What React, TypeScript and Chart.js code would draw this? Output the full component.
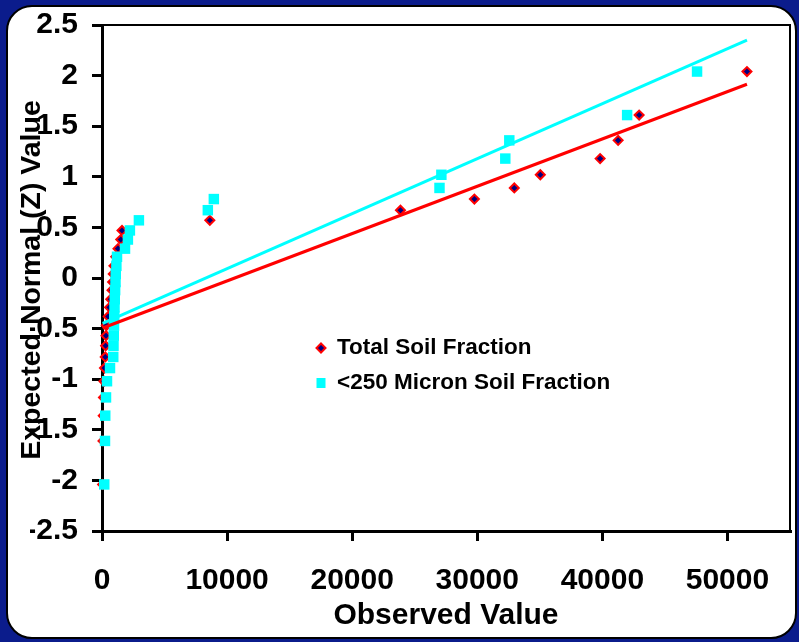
import React, { useEffect, useRef } from 'react';
import { Chart, registerables } from 'chart.js';

Chart.register(...registerables);

// ---- Data ----
const zScores = [
  -2.04, -1.61, -1.36, -1.18, -1.02, -0.89, -0.78, -0.67, -0.57, -0.47,
  -0.38, -0.29, -0.21, -0.12, -0.04, 0.04, 0.12, 0.21, 0.29, 0.38,
  0.47, 0.57, 0.67, 0.78, 0.89, 1.02, 1.18, 1.36, 1.61, 2.04,
];

const totalSoilObserved = [
  50, 80, 100, 120, 160, 200, 260, 290, 320, 350,
  500, 600, 700, 800, 850, 900, 950, 1100, 1280, 1500,
  1600, 8620, 23860, 29770, 32960, 35040, 39820, 41260, 42940, 51560,
];

const micronSoilObserved = [
  180, 240, 260, 320, 400, 640, 900, 920, 940, 960,
  980, 1000, 1020, 1050, 1080, 1100, 1150, 1200, 1840, 2070,
  2230, 2950, 8460, 8940, 26980, 27130, 32240, 32560, 41980, 47570,
];

const seriesLabels = ['Total Soil Fraction', '<250 Micron Soil Fraction'];
const xAxisTitle = 'Observed Value';
const yAxisTitle = 'Expected Normal (Z) Value';
const xTickValues = [0, 10000, 20000, 30000, 40000, 50000];
const yTickValues = [-2.5, -2, -1.5, -1, -0.5, 0, 0.5, 1, 1.5, 2, 2.5];
const xAxisMin = 0;
const xAxisMax = 55000;
const yAxisMin = -2.5;
const yAxisMax = 2.5;

const FONT = '"Liberation Sans", Arial, Helvetica, sans-serif';
const RED = '#ff0000';
const NAVY = '#000080';
const CYAN = '#00ffff';
const BLUE_BG = '#0b1c8c';

function linearFit(xs: number[], ys: number[]) {
  const n = xs.length;
  const mx = xs.reduce((a, b) => a + b, 0) / n;
  const my = ys.reduce((a, b) => a + b, 0) / n;
  let sxy = 0;
  let sxx = 0;
  for (let i = 0; i < n; i++) {
    sxy += (xs[i] - mx) * (ys[i] - my);
    sxx += (xs[i] - mx) * (xs[i] - mx);
  }
  const slope = sxy / sxx;
  return { slope, intercept: my - slope * mx };
}

function trendPoints(xs: number[], ys: number[], x0: number, x1: number) {
  const { slope, intercept } = linearFit(xs, ys);
  return [
    { x: x0, y: intercept + slope * x0 },
    { x: x1, y: intercept + slope * x1 },
  ];
}

const decorPlugin = {
  id: 'decor',
  beforeDatasetsDraw(chart: any) {
    const { ctx, chartArea: ca } = chart;
    ctx.save();
    ctx.strokeStyle = '#000';
    ctx.lineWidth = 2;
    ctx.beginPath();
    ctx.moveTo(ca.left - 10, ca.top);
    ctx.lineTo(ca.right, ca.top);
    ctx.lineTo(ca.right, ca.bottom);
    ctx.stroke();
    ctx.restore();
  },
  afterDraw(chart: any) {
    const { ctx, chartArea: ca } = chart;
    // y axis title
    ctx.save();
    ctx.translate(40, (ca.top + ca.bottom) / 2 + 2);
    ctx.rotate(-Math.PI / 2);
    ctx.fillStyle = '#000';
    ctx.font = `bold 28.5px ${FONT}`;
    ctx.textAlign = 'center';
    ctx.textBaseline = 'alphabetic';
    ctx.fillText(yAxisTitle, 0, 0);
    ctx.restore();

    // legend inside plot
    const mx = ca.left + 219;
    const tx = ca.left + 235;
    const y1 = ca.top + 323;
    const y2 = ca.top + 358;
    ctx.save();
    ctx.beginPath();
    ctx.moveTo(mx, y1 - 4.5);
    ctx.lineTo(mx + 4.5, y1);
    ctx.lineTo(mx, y1 + 4.5);
    ctx.lineTo(mx - 4.5, y1);
    ctx.closePath();
    ctx.fillStyle = NAVY;
    ctx.fill();
    ctx.strokeStyle = RED;
    ctx.lineWidth = 2;
    ctx.stroke();
    ctx.fillStyle = CYAN;
    ctx.fillRect(mx - 4.5, y2 - 5, 9, 10);
    ctx.fillStyle = '#000';
    ctx.font = `bold 22.5px ${FONT}`;
    ctx.textAlign = 'left';
    ctx.textBaseline = 'middle';
    ctx.fillText(seriesLabels[0], tx, y1);
    ctx.fillText(seriesLabels[1], tx, y2);
    ctx.restore();
  },
};

export default function App() {
  const canvasRef = useRef<HTMLCanvasElement | null>(null);

  useEffect(() => {
    document.body.style.margin = '0';
    if (!canvasRef.current) return;
    const allX = [...totalSoilObserved, ...micronSoilObserved];
    const x0 = Math.min(...allX);
    const x1 = Math.max(...allX);

    const totalPts = totalSoilObserved.map((x, i) => ({ x, y: zScores[i] }));
    const micronPts = micronSoilObserved.map((x, i) => ({ x, y: zScores[i] }));

    const tickFont = { family: FONT, size: 30, weight: 'bold' as const };
    const gridOpts = {
      drawOnChartArea: false,
      drawTicks: true,
      tickLength: 10,
      color: '#000',
      lineWidth: 3,
    };
    const borderOpts = { display: true, color: '#000', width: 3 };

    const chart = new Chart(canvasRef.current, {
      type: 'scatter',
      data: {
        datasets: [
          {
            label: 'Total trend',
            data: trendPoints(totalSoilObserved, zScores, x0, x1),
            showLine: true,
            borderColor: RED,
            borderWidth: 3,
            pointRadius: 0,
            clip: false,
          } as any,
          {
            label: 'Micron trend',
            data: trendPoints(micronSoilObserved, zScores, x0, x1),
            showLine: true,
            borderColor: CYAN,
            borderWidth: 3,
            pointRadius: 0,
            clip: false,
          } as any,
          {
            label: seriesLabels[1],
            data: micronPts,
            pointStyle: 'rect',
            pointRadius: 7.4,
            backgroundColor: CYAN,
            borderColor: CYAN,
            borderWidth: 0,
            clip: false,
          } as any,
          {
            label: seriesLabels[0],
            data: totalPts,
            pointStyle: 'rectRot',
            pointRadius: 4.5,
            backgroundColor: NAVY,
            borderColor: RED,
            borderWidth: 2,
            clip: false,
          } as any,
        ],
      },
      options: {
        animation: false,
        responsive: false,
        events: [],
        layout: { padding: { left: 30, right: 9, top: 25, bottom: 8 } },
        plugins: {
          legend: { display: false },
          tooltip: { enabled: false },
        },
        scales: {
          x: {
            type: 'linear',
            min: xAxisMin,
            max: xAxisMax,
            afterBuildTicks: (scale: any) => {
              scale.ticks = xTickValues.map((v) => ({ value: v }));
            },
            afterFit: (scale: any) => {
              scale.height = 103;
              scale.paddingLeft = 0;
              scale.paddingRight = 0;
            },
            ticks: {
              color: '#000',
              font: tickFont,
              padding: 22,
              maxRotation: 0,
              minRotation: 0,
              autoSkip: false,
              callback: (v: any) => String(v),
            },
            grid: gridOpts,
            border: borderOpts,
            title: {
              display: true,
              text: xAxisTitle,
              color: '#000',
              font: { family: FONT, size: 30, weight: 'bold' },
              padding: { top: 0, bottom: 0 },
            },
          },
          y: {
            type: 'linear',
            min: yAxisMin,
            max: yAxisMax,
            afterBuildTicks: (scale: any) => {
              scale.ticks = yTickValues.map((v) => ({ value: v }));
            },
            afterFit: (scale: any) => {
              scale.width = 72;
              scale.paddingTop = 0;
              scale.paddingBottom = 0;
            },
            ticks: {
              color: '#000',
              font: tickFont,
              padding: 14,
              autoSkip: false,
              callback: (v: any) => String(Number(v)),
            },
            grid: gridOpts,
            border: borderOpts,
          },
        },
      } as any,
      plugins: [decorPlugin],
    });
    return () => chart.destroy();
  }, []);

  return (
    <div
      style={{
        position: 'fixed',
        left: 0,
        top: 0,
        width: 799,
        height: 642,
        background: BLUE_BG,
        overflow: 'hidden',
      }}
    >
      <div
        style={{
          position: 'absolute',
          left: 6,
          top: 5,
          width: 787,
          height: 630,
          background: '#fff',
          border: '2px solid #000',
          borderRadius: 26,
        }}
      />
      <canvas
        ref={canvasRef}
        width={799}
        height={642}
        style={{ position: 'absolute', left: 0, top: 0 }}
      />
    </div>
  );
}
